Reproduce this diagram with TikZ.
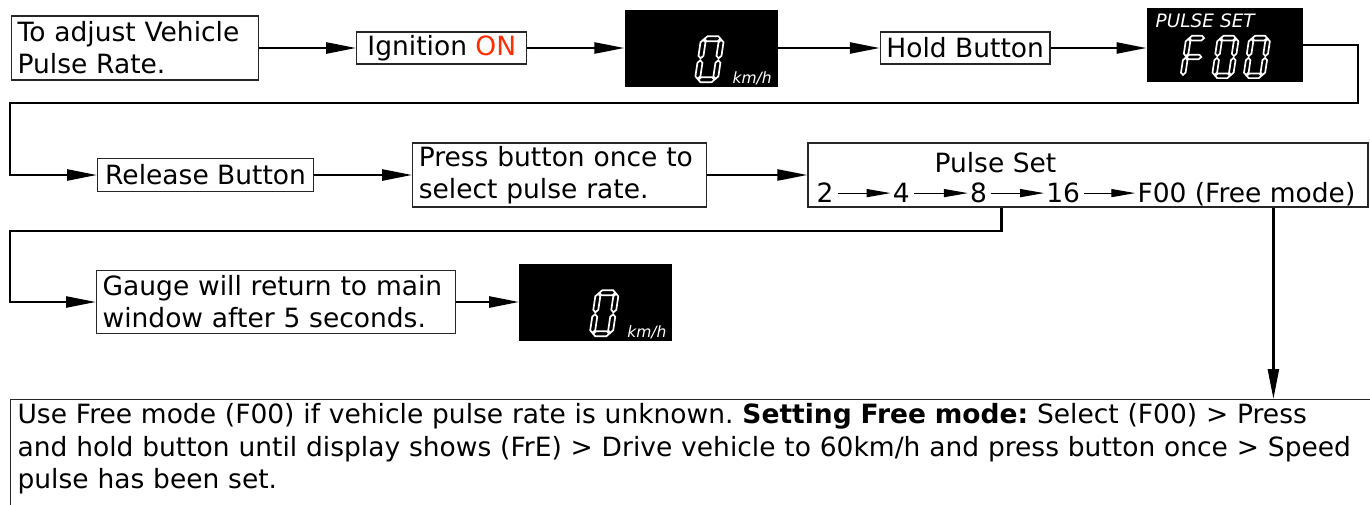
\documentclass[tikz,border=0pt]{standalone}
\usepackage{fontspec}
\setmainfont{DejaVu Sans}
\usepackage{tikz}
\usetikzlibrary{positioning}
\usetikzlibrary{arrows.meta, calc}
\frenchspacing

\definecolor{onred}{RGB}{255,45,0}
\newcommand{\boxfont}{\fontsize{26.5}{32}\selectfont}
\newcommand{\notefont}{\fontsize{26.5}{32.5}\selectfont}
\newcommand{\unitfont}{\fontsize{15.5}{18}\selectfont\itshape}
\newcommand{\tagfont}{\fontsize{18.5}{20}\selectfont\itshape}

% one segment of a display digit
\newcommand{\lcdhseg}[1]{\filldraw[seg line] (3.5,#1) -- ++(2.5,-2.5) -- ++(11,0) -- ++(2.5,2.5) -- ++(-2.5,2.5) -- ++(-11,0) -- cycle;}
\newcommand{\lcdvseg}[2]{\filldraw[seg line] (#1,#2) -- ++(2.5,2.5) -- ++(0,13.5) -- ++(-2.5,2.5) -- ++(-2.5,-2.5) -- ++(0,-13.5) -- cycle;}
\newcommand{\lcdzero}{\lcdhseg{2.5}\lcdhseg{43.5}\lcdvseg{2.5}{3.5}\lcdvseg{2.5}{24}\lcdvseg{20.5}{3.5}\lcdvseg{20.5}{24}}
\newcommand{\lcdeff}{\lcdhseg{2.5}\lcdhseg{23}\lcdvseg{2.5}{3.5}\lcdvseg{2.5}{24}}

\begin{document}
\begin{tikzpicture}[x=1pt,y=-1pt,>={Triangle[length=30pt,width=11pt]},node distance=97pt,
    box node/.style={draw=black!85,line width=1.2pt,inner xsep=6pt,inner ysep=3pt,font=\boxfont,align=left},
    lcd node/.style={fill=black,minimum width=153pt,minimum height=77pt,inner sep=0pt},
    value node/.style={inner sep=0pt,text height=19pt,text depth=0pt,font=\boxfont},
    unit label/.style={text=white,inner sep=0pt,font=\unitfont,anchor=base west},
    seg line/.style={draw=white,fill=black,line width=1.7pt},
    flow/.style={->,line width=2.4pt},
    small flow/.style={-{Triangle[length=24pt,width=8pt]},line width=1.2pt,shorten <=4pt,shorten >=2pt}]

  \clip (0,0) rectangle (1370,504);

  % first row
  \node[box node,text width=235pt,minimum height=64pt,anchor=west] (start) at (11,48) {To adjust Vehicle\\Pulse Rate.};
  \node[box node,minimum width=170pt,minimum height=32pt,right=of start] (ign) {Ignition \textcolor{onred}{ON}};
  \node[lcd node,right=of ign] (disp1) {};
  \node[box node,minimum width=169pt,minimum height=32pt,right=102pt of disp1] (hold) {Hold Button};
  \node[lcd node,minimum width=156pt,minimum height=74pt,yshift=3pt,right=96pt of hold] (disp2) {};

  % second row
  \node[box node,minimum width=216pt,minimum height=33pt,anchor=west] (release) at (97,175) {Release Button};
  \node[box node,text width=282pt,minimum height=64pt,right=98pt of release] (press) {Press button once to\\select pulse rate.};
  \node[box node,minimum width=560pt,minimum height=64pt,right=100pt of press] (pulse) {};
  \node[font=\boxfont,inner sep=0pt,anchor=base] (pulsetitle) at ($(pulse.south west)+(188,-35)$) {Pulse Set};
  \node[value node,anchor=base west] (v2) at ($(pulse.south west)+(9,-5)$) {2};
  \node[value node,base right=59pt of v2] (v4) {4};
  \node[value node,base right=60pt of v4] (v8) {8};
  \node[value node,base right=59pt of v8] (v16) {16};
  \node[value node,base right=57pt of v16] (vfree) {F00 (Free mode)};

  % third row
  \node[box node,text width=347pt,minimum height=63pt,anchor=west] (gauge) at (96,302) {Gauge will return to main\\window after 5 seconds.};
  \node[lcd node,right=63pt of gauge] (disp3) {};

  % note
  \node[box node,anchor=north west,text width=1350pt,inner xsep=7pt,inner ysep=4pt,font=\notefont] (note) at (10,399)
    {Use Free mode (F00) if vehicle pulse rate is unknown. \textbf{Setting Free mode:} Select (F00) > Press\\
     and hold button until display shows (FrE) > Drive vehicle to 60km/h and press button once > Speed\\
     pulse has been set.\rule[-60pt]{0pt}{60pt}};

  % display contents
  \begin{scope}[shift={(disp1.north west)},shift={(77,27)},xslant=0.15] \lcdzero \end{scope}
  \begin{scope}[shift={(disp3.north west)},shift={(77,27)},xslant=0.15] \lcdzero \end{scope}
  \foreach \dx/\glyph in {40/\lcdeff,71.5/\lcdzero,103/\lcdzero}{
    \begin{scope}[shift={(disp2.north west)},shift={(\dx,28)},xslant=0.15,scale=0.92] \glyph \end{scope}
  }
  \node[unit label] (unit1) at ($(disp1.north west)+(108,74)$) {km/h};
  \node[unit label] (unit3) at ($(disp3.north west)+(108,74)$) {km/h};
  \node[unit label,font=\tagfont] (pulsetag) at ($(disp2.north west)+(9,20)$) {PULSE SET};

  % connectors
  \coordinate (bendA) at (1358,103);
  \coordinate (bendB) at (10,103);
  \coordinate (bendC) at (10,231);
  \coordinate (tap8) at ($(pulse.south west)+(194,0)$);
  \coordinate (tapfree) at ($(pulse.south west)+(466,0)$);

  \draw[flow] (start) -- (ign);
  \draw[flow] (ign) -- (disp1);
  \draw[flow] (disp1) -- (hold);
  \draw[flow] (hold) -- (hold -| disp2.west);
  \draw[flow] (disp2.east) -| (bendA) -- (bendB) |- (release.west);
  \draw[flow] (release) -- (press);
  \draw[flow] (press) -- (pulse);
  \draw[flow] (tap8) |- (bendC) |- (gauge.west);
  \draw[flow] (gauge) -- (disp3);
  \draw[flow] (tapfree) -- (tapfree |- note.north);

  \draw[small flow] (v2) -- (v4);
  \draw[small flow] (v4) -- (v8);
  \draw[small flow] (v8) -- (v16);
  \draw[small flow] (v16) -- (vfree);
\end{tikzpicture}
\end{document}
